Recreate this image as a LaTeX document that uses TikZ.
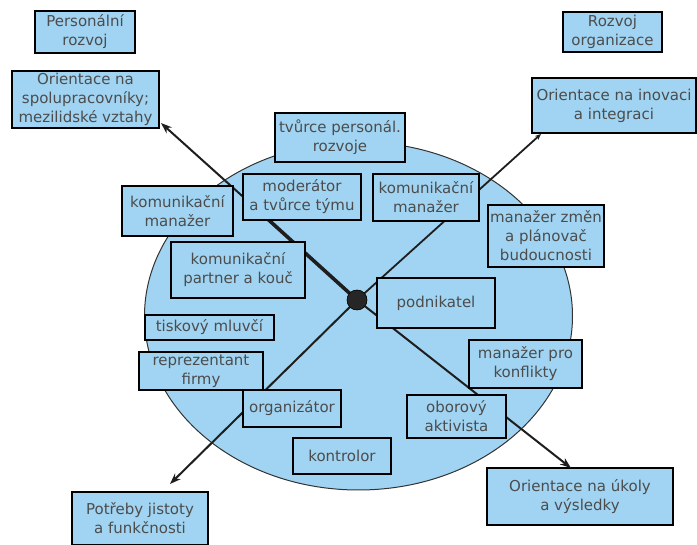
\documentclass[tikz,border=0pt]{standalone}
\usepackage{fontspec}
\newfontfamily\dfont{DejaVu Sans}
\usetikzlibrary{arrows.meta,shapes.geometric}
\definecolor{boxblue}{RGB}{160,212,242}
\definecolor{linegray}{RGB}{30,30,30}
\newcommand\diabox[6]{%
  \node[rbox, minimum width={#4pt-#2pt}, minimum height={#5pt-#3pt}]
    (#1) at ({(#2+#4)/2},{(#3+#5)/2}) {#6};}
\begin{document}
\begin{tikzpicture}[x=1pt,y=-1pt,
  rbox/.style={draw=black, line width=1.4pt, fill=boxblue, align=center,
    inner sep=1pt, text=black!70, font=\dfont\fontsize{15}{19}\selectfont},
  conn/.style={draw=linegray, line width=2pt},
  tip/.style={-{Stealth[length=11pt,width=8pt]}}]
\useasboundingbox (0,0) rectangle (697,545);
% ellipse
\node[ellipse, draw=black!80, line width=1pt, fill=boxblue,
  minimum width=428pt, minimum height=348pt, inner sep=0pt] (oval) at (358.5,316) {};
% outer boxes
\diabox{personal}{35}{11}{135}{53}{Personální\\rozvoj}
\diabox{spolu}{12}{71}{159}{128}{Orientace na\\spolupracovníky;\\mezilidské vztahy}
\diabox{rozvojorg}{563}{12}{662}{52}{Rozvoj\\organizace}
\diabox{inovace}{532}{78}{696}{133}{Orientace na inovaci\\a integraci}
\diabox{ukoly}{487}{468}{673}{525}{Orientace na úkoly\\a výsledky}
\diabox{jistoty}{72}{492}{208}{545}{Potřeby jistoty\\a funkčnosti}
% centre and connectors
\node[circle, fill=black!85, draw=black, minimum size=20pt, inner sep=0pt] (center) at (357,300) {};
\coordinate (ulmid) at (250,203);
\coordinate (ulend) at (161,123);
\coordinate (urend) at (541,134);
\coordinate (llend) at (170,484);
\coordinate (lrend) at (571,468);
\draw[conn, line width=3.6pt] (center.center) -- (ulmid);
\draw[conn, tip] (ulmid) -- (ulend);
\draw[conn, line width=1.8pt, -{Stealth[length=6pt,width=5pt]}] (center.center) -- (urend);
\draw[conn, tip] (center.center) -- (llend);
\draw[conn, tip] (center.center) -- (lrend);
\node[circle, fill=black!85, draw=black, minimum size=20pt, inner sep=0pt] at (center) {};
% inner boxes
\diabox{tvurce}{275}{113}{405}{162}{tvůrce personál.\\rozvoje}
\diabox{moderator}{243}{174}{361}{220}{moderátor\\a tvůrce týmu}
\diabox{komR}{373}{174}{479}{221}{komunikační\\manažer}
\diabox{komL}{122}{186}{233}{236}{komunikační\\manažer}
\diabox{partner}{171}{242}{305}{298}{komunikační\\partner a kouč}
\diabox{tisk}{145}{315}{274}{340}{tiskový mluvčí}
\diabox{podnikatel}{377}{278}{495}{328}{podnikatel}
\diabox{zmeny}{488}{205}{604}{267}{manažer změn\\a plánovač\\budoucnosti}
\diabox{konflikty}{469}{340}{582}{388}{manažer pro\\konflikty}
\diabox{reprez}{139}{352}{263}{390}{reprezentant\\firmy}
\diabox{organizator}{243}{390}{341}{427}{organizátor}
\diabox{kontrolor}{293}{438}{391}{474}{kontrolor}
\diabox{aktivista}{407}{395}{506}{438}{oborový\\aktivista}
\end{tikzpicture}
\end{document}
